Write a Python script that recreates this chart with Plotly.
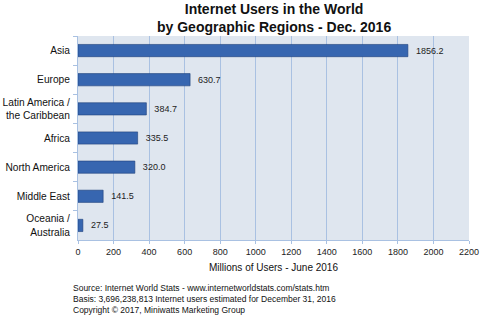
import plotly.graph_objects as go

regions = ["Asia", "Europe", "Latin America /<br>the Caribbean", "Africa",
           "North America", "Middle East", "Oceania /<br>Australia"]
users = [1856.2, 630.7, 384.7, 335.5, 320.0, 141.5, 27.5]
labels = ["1856.2", "630.7", "384.7", "335.5", "320.0", "141.5", "27.5"]
tick_vals = [0, 200, 400, 600, 800, 1000, 1200, 1400, 1600, 1800, 2000, 2200]

font_family = "Liberation Sans, Arial, Helvetica, sans-serif"

fig = go.Figure(go.Bar(
    x=users, y=regions, orientation="h",
    text=["  " + t for t in labels], textposition="outside",
    textfont=dict(size=9, color="#222222", family=font_family),
    marker=dict(color="#3766b0", line=dict(color="#1f3f7a", width=0.6)),
    cliponaxis=False,
    width=0.42,
))

fig.update_layout(
    width=482, height=315,
    margin=dict(l=78, r=13, t=36, b=75, autoexpand=False),
    paper_bgcolor="white", plot_bgcolor="#dfe6ef",
    showlegend=False,
    font=dict(family=font_family, size=10, color="#111111"),
    xaxis=dict(range=[0, 2200], tickvals=tick_vals, showgrid=True, automargin=False,
               gridcolor="#a9c1e2", gridwidth=1, zeroline=False,
               showline=True, linecolor="#a9c1e2", ticks="outside",
               ticklen=3, tickcolor="#a9c1e2",
               tickfont=dict(size=9, color="#222222"),
               title=dict(text="Millions of Users - June 2016", font=dict(size=10), standoff=8)),
    yaxis=dict(autorange="reversed", showgrid=False, showline=True, automargin=False,
               linecolor="#a9c1e2", ticks="outside", tickson="boundaries",
               ticklen=4, tickcolor="#a9c1e2", ticklabelstandoff=5,
               tickfont=dict(size=10.2, color="#111111")),
    annotations=[
        dict(text="<b>Internet Users in the World<br>by Geographic Regions - Dec. 2016</b>",
             xref="paper", yref="paper", x=0.5, y=1.183, xanchor="center", yanchor="top",
             align="center", showarrow=False, font=dict(size=14, color="#111111")),
        dict(text="Source: Internet World Stats - www.internetworldstats.com/stats.htm<br>"
                  "Basis: 3,696,238,813 Internet users estimated for December 31, 2016<br>"
                  "Copyright \u00a9 2017, Miniwatts Marketing Group",
             xref="paper", yref="paper", x=-0.017, y=-0.2, xanchor="left", yanchor="top",
             align="left", showarrow=False, font=dict(size=8.5, color="#111111")),
    ],
)

fig.write_html("out.html", config={"displayModeBar": False},
               post_script="document.body.style.margin='0';document.body.style.overflow='hidden';")
